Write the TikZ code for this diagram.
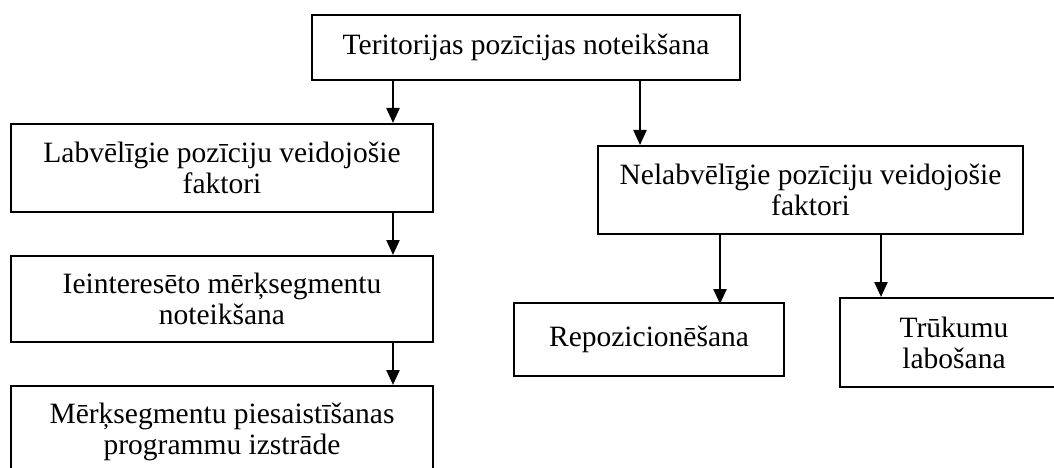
\documentclass[tikz,border=0pt]{standalone}
\usepackage{fontspec}
\setmainfont{Liberation Serif}
\usetikzlibrary{arrows.meta}
\begin{document}
\begin{tikzpicture}[x=1pt,y=-1pt,
  box/.style={draw=black,line width=2pt,rectangle,inner sep=0pt,align=center,
    font=\fontsize{29.5}{31}\selectfont},
  arr/.style={line width=2.3pt,-{Triangle[width=13pt,length=15pt]}}]
\useasboundingbox (0,0) rectangle (1054,468);
\begin{scope}
\clip (0,0) rectangle (1054,468);
\node[box,minimum width=428pt,minimum height=65pt] (top) at (526,47.5) {Teritorijas pozīcijas noteikšana};
\node[box,minimum width=422pt,minimum height=88pt] (l1) at (222,168) {Labvēlīgie pozīciju veidojošie\\faktori};
\node[box,minimum width=422pt,minimum height=86pt] (l2) at (222,299) {Ieinteresēto mērķsegmentu\\noteikšana};
\node[box,minimum width=422pt,minimum height=92pt] (l3) at (222,432) {Mērķsegmentu piesaistīšanas\\programmu izstrāde};
\node[box,minimum width=425pt,minimum height=88pt] (r1) at (810.5,190) {Nelabvēlīgie pozīciju veidojošie\\faktori};
\node[box,minimum width=270pt,minimum height=73pt] (repo) at (649,339.5) {Repozicionēšana};
\node[box,minimum width=228pt,minimum height=89pt] (truk) at (954,342.5) {Trūkumu\\labošana};
\end{scope}
\coordinate (xa) at (393,0);
\coordinate (xb) at (640,0);
\coordinate (xc) at (720,0);
\coordinate (xd) at (881,0);
\draw[arr] (top.south -| xa) -- (l1.north -| xa);
\draw[arr] (l1.south -| xa) -- (l2.north -| xa);
\draw[arr] (l2.south -| xa) -- (l3.north -| xa);
\draw[arr] (top.south -| xb) -- (r1.north -| xb);
\draw[arr] (r1.south -| xc) -- ([yshift=-2pt]repo.north -| xc);
\draw[arr] (r1.south -| xd) -- (truk.north -| xd);
\end{tikzpicture}
\end{document}
